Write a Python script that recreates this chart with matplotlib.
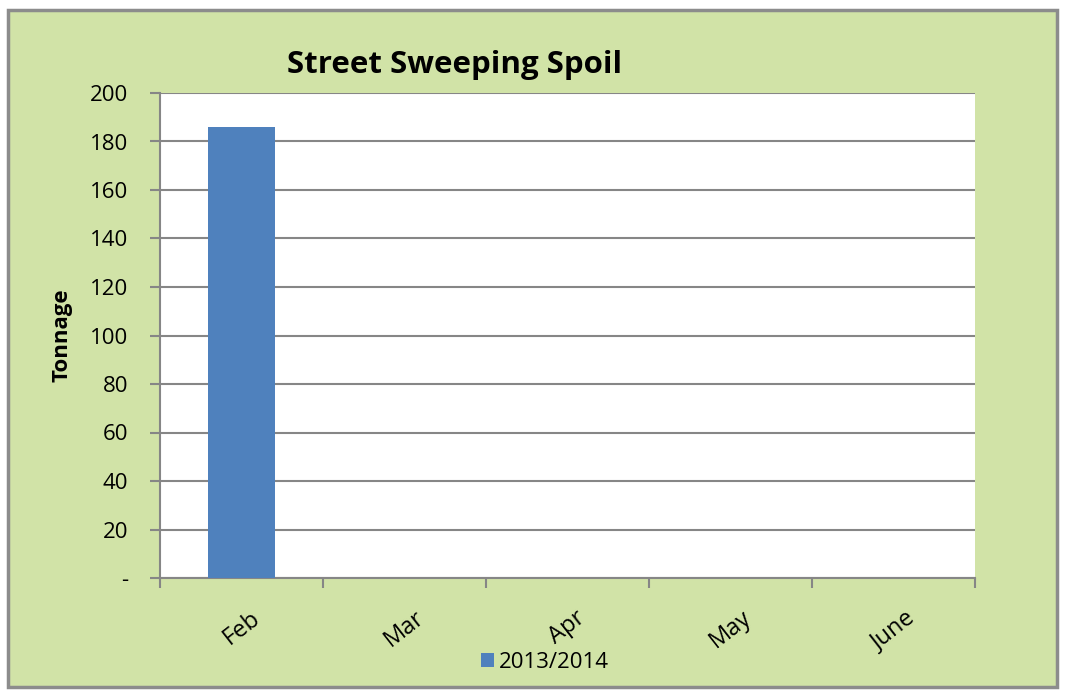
import matplotlib.pyplot as plt
from matplotlib.patches import Rectangle

months = ['Feb', 'Mar', 'Apr', 'May', 'June']
tonnage = [186, 0, 0, 0, 0]
series_name = '2013/2014'
yticks = [0, 20, 40, 60, 80, 100, 120, 140, 160, 180, 200]
ytick_labels = ['-'] + [str(v) for v in yticks[1:]]

plt.rcParams['font.family'] = ['Open Sans', 'DejaVu Sans']

W, H = 1065, 695
fig = plt.figure(figsize=(W / 100, H / 100), dpi=100)
fig.patch.set_facecolor('white')

# chart area background, behind the axes
fig.patches.append(Rectangle((8 / W, 1 - 687 / H), 1049 / W, 677 / H,
                             transform=fig.transFigure, facecolor='#D1E3A7',
                             edgecolor='#8C8C8C', linewidth=2.5, zorder=-5))

ax = fig.add_axes([160 / W, 1 - 578 / H, 815 / W, 485 / H])
ax.set_facecolor('white')
x = range(len(months))
ax.bar(x, tonnage, width=0.405, color='#4F81BD', label=series_name, zorder=3)

ax.set_xlim(-0.5, len(months) - 0.5)
ax.set_ylim(0, 200)
ax.set_yticks(yticks)
ax.set_yticklabels(ytick_labels, fontsize=16)
ax.yaxis.grid(True, color='#868686', linewidth=1.5, zorder=1)
ax.set_axisbelow(True)

ax.set_xticks([i - 0.5 for i in range(len(months) + 1)])
ax.set_xticklabels([])
ax.set_xticks(list(x), minor=True)
ax.set_xticklabels(months, minor=True, rotation=38, fontsize=17)
ax.tick_params(axis='x', which='minor', length=0, pad=20)
ax.tick_params(axis='x', which='major', length=7, color='#868686', width=1.5)
ax.tick_params(axis='y', length=7, color='#868686', width=1.5, pad=16)

for s in ['top', 'right']:
    ax.spines[s].set_visible(False)
for s in ['left', 'bottom']:
    ax.spines[s].set_color('#868686')
    ax.spines[s].set_linewidth(1.5)

ax.set_ylabel('Tonnage', fontsize=16, fontweight='bold')
ax.yaxis.set_label_coords((73 - 160) / 815, 0.5)
fig.text(455 / W, 1 - 65 / H, 'Street Sweeping Spoil', fontsize=22.5,
         fontweight='bold', ha='center', va='center')

ax.legend(loc='center', bbox_to_anchor=(545 / W, 1 - 662 / H),
          bbox_transform=fig.transFigure, frameon=False, fontsize=16,
          handlelength=0.6, handleheight=0.6, handletextpad=0.2)

fig.savefig('out.png', dpi=100)
